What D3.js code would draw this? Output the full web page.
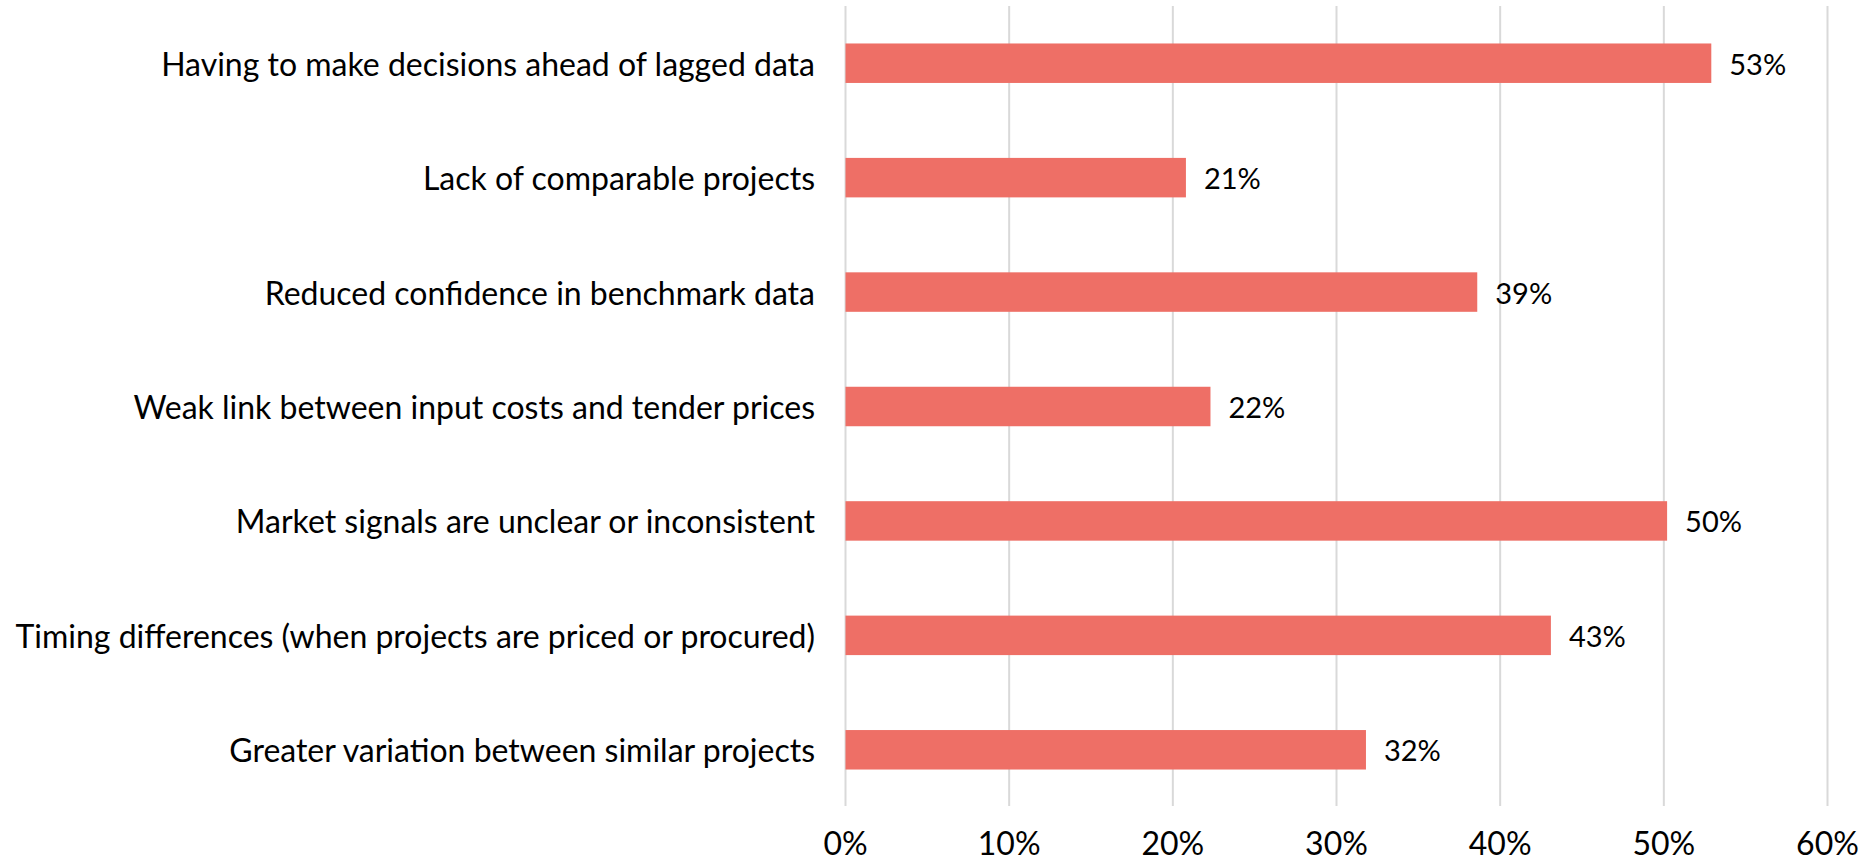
<!DOCTYPE html>
<html>
<head>
<meta charset="utf-8">
<script src="https://cdn.jsdelivr.net/npm/d3@7/dist/d3.min.js"></script>
<style>
  html, body { margin: 0; padding: 0; background: #fff; }
  svg { display: block; font-family: Lato, "Open Sans", sans-serif; }
</style>
</head>
<body>
<svg id="chart"></svg>
<script>
// ── Data ──────────────────────────────────────────────────────────────────────
const categories = [
  'Having to make decisions ahead of lagged data',
  'Lack of comparable projects',
  'Reduced confidence in benchmark data',
  'Weak link between input costs and tender prices',
  'Market signals are unclear or inconsistent',
  'Timing differences (when projects are priced or procured)',
  'Greater variation between similar projects'
];
const shares = [0.529, 0.208, 0.386, 0.223, 0.502, 0.431, 0.318];
const xTicks = [0, 0.1, 0.2, 0.3, 0.4, 0.5, 0.6];

const W = 1870, H = 863;
const BAR = '#ee6f66';
const GRID = '#d9d9d9';

const svg = d3.select('#chart')
  .attr('width', W)
  .attr('height', H)
  .attr('viewBox', `0 0 ${W} ${H}`);

const x = d3.scaleLinear().domain([0, 0.6]).range([845.5, 1827.5]);
const y = d3.scaleBand().domain(categories).range([6, 807])
  .paddingInner(0.655).paddingOuter(0.3275);

const pct = d3.format('.0%');

// ── Gridlines ─────────────────────────────────────────────────────────────────
svg.append('g')
  .selectAll('line')
  .data(xTicks)
  .join('line')
    .attr('x1', d => x(d))
    .attr('x2', d => x(d))
    .attr('y1', 6)
    .attr('y2', 806)
    .attr('stroke', GRID)
    .attr('stroke-width', 2);

// ── Tick labels ───────────────────────────────────────────────────────────────
svg.append('g')
  .selectAll('text')
  .data(xTicks)
  .join('text')
    .attr('x', d => x(d))
    .attr('y', 855)
    .attr('text-anchor', 'middle')
    .attr('font-size', '32px')
    .attr('fill', '#000')
    .text(d => pct(d));

// ── Bars ──────────────────────────────────────────────────────────────────────
const rows = categories.map((c, i) => ({ c, v: shares[i] }));

svg.append('g')
  .selectAll('rect')
  .data(rows)
  .join('rect')
    .attr('x', x(0))
    .attr('y', d => y(d.c))
    .attr('width', d => x(d.v) - x(0))
    .attr('height', y.bandwidth())
    .attr('fill', BAR);

// ── Value labels ──────────────────────────────────────────────────────────────
svg.append('g')
  .selectAll('text')
  .data(rows)
  .join('text')
    .attr('x', d => x(d.v) + 18)
    .attr('y', d => y(d.c) + y.bandwidth() / 2)
    .attr('dominant-baseline', 'central')
    .attr('font-size', '29px')
    .attr('fill', '#000')
    .text(d => pct(d.v));

// ── Category labels ───────────────────────────────────────────────────────────
svg.append('g')
  .selectAll('text')
  .data(categories)
  .join('text')
    .attr('x', 815)
    .attr('y', d => y(d) + y.bandwidth() / 2)
    .attr('text-anchor', 'end')
    .attr('dominant-baseline', 'central')
    .attr('font-size', '32px')
    .attr('fill', '#000')
    .text(d => d);
</script>
</body>
</html>
